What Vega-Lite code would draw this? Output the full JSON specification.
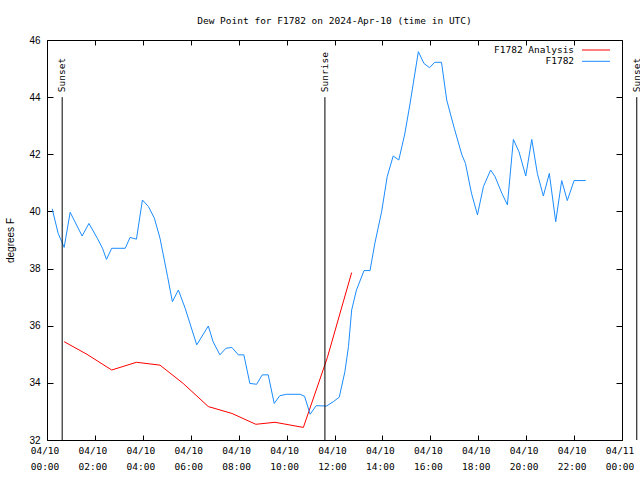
{
  "$schema": "https://vega.github.io/schema/vega-lite/v6.json",
  "width": 575,
  "height": 400,
  "autosize": {"type": "none"},
  "padding": {"left": 47, "top": 40, "right": 18, "bottom": 40},
  "background": "white",
  "title": {"text": "Dew Point for F1782 on 2024-Apr-10 (time in UTC)", "font": "DejaVu Sans Mono", "fontSize": 9.5, "fontWeight": "normal", "color": "black", "anchor": "middle", "frame": "group", "offset": 10},
  "config": {
    "view": {"stroke": "black", "strokeWidth": 1},
    "axis": {"domainColor": "black", "tickColor": "black", "labelColor": "black", "titleColor": "black", "domainWidth": 1, "tickWidth": 1}
  },
  "datasets": {
    "series": [
      {"t": "2024-04-10T00:43:00Z", "v": 35.44, "s": "F1782 Analysis"},
      {"t": "2024-04-10T01:40:00Z", "v": 35.0, "s": "F1782 Analysis"},
      {"t": "2024-04-10T02:42:00Z", "v": 34.45, "s": "F1782 Analysis"},
      {"t": "2024-04-10T03:44:00Z", "v": 34.72, "s": "F1782 Analysis"},
      {"t": "2024-04-10T04:43:00Z", "v": 34.62, "s": "F1782 Analysis"},
      {"t": "2024-04-10T05:41:00Z", "v": 33.98, "s": "F1782 Analysis"},
      {"t": "2024-04-10T06:44:00Z", "v": 33.17, "s": "F1782 Analysis"},
      {"t": "2024-04-10T07:43:00Z", "v": 32.93, "s": "F1782 Analysis"},
      {"t": "2024-04-10T08:43:00Z", "v": 32.55, "s": "F1782 Analysis"},
      {"t": "2024-04-10T09:31:00Z", "v": 32.62, "s": "F1782 Analysis"},
      {"t": "2024-04-10T10:42:00Z", "v": 32.44, "s": "F1782 Analysis"},
      {"t": "2024-04-10T11:42:00Z", "v": 34.88, "s": "F1782 Analysis"},
      {"t": "2024-04-10T12:43:00Z", "v": 37.86, "s": "F1782 Analysis"},
      {"t": "2024-04-10T00:13:00Z", "v": 40.09, "s": "F1782"},
      {"t": "2024-04-10T00:28:00Z", "v": 39.23, "s": "F1782"},
      {"t": "2024-04-10T00:37:00Z", "v": 38.94, "s": "F1782"},
      {"t": "2024-04-10T00:43:00Z", "v": 38.74, "s": "F1782"},
      {"t": "2024-04-10T00:58:00Z", "v": 39.97, "s": "F1782"},
      {"t": "2024-04-10T01:28:00Z", "v": 39.14, "s": "F1782"},
      {"t": "2024-04-10T01:45:00Z", "v": 39.58, "s": "F1782"},
      {"t": "2024-04-10T02:06:00Z", "v": 39.06, "s": "F1782"},
      {"t": "2024-04-10T02:19:00Z", "v": 38.71, "s": "F1782"},
      {"t": "2024-04-10T02:29:00Z", "v": 38.32, "s": "F1782"},
      {"t": "2024-04-10T02:42:00Z", "v": 38.71, "s": "F1782"},
      {"t": "2024-04-10T03:16:00Z", "v": 38.71, "s": "F1782"},
      {"t": "2024-04-10T03:28:00Z", "v": 39.09, "s": "F1782"},
      {"t": "2024-04-10T03:44:00Z", "v": 39.03, "s": "F1782"},
      {"t": "2024-04-10T03:59:00Z", "v": 40.40, "s": "F1782"},
      {"t": "2024-04-10T04:14:00Z", "v": 40.17, "s": "F1782"},
      {"t": "2024-04-10T04:29:00Z", "v": 39.76, "s": "F1782"},
      {"t": "2024-04-10T04:43:00Z", "v": 39.06, "s": "F1782"},
      {"t": "2024-04-10T05:02:00Z", "v": 37.72, "s": "F1782"},
      {"t": "2024-04-10T05:14:00Z", "v": 36.84, "s": "F1782"},
      {"t": "2024-04-10T05:29:00Z", "v": 37.25, "s": "F1782"},
      {"t": "2024-04-10T05:46:00Z", "v": 36.61, "s": "F1782"},
      {"t": "2024-04-10T06:15:00Z", "v": 35.33, "s": "F1782"},
      {"t": "2024-04-10T06:44:00Z", "v": 35.99, "s": "F1782"},
      {"t": "2024-04-10T06:56:00Z", "v": 35.44, "s": "F1782"},
      {"t": "2024-04-10T07:13:00Z", "v": 34.98, "s": "F1782"},
      {"t": "2024-04-10T07:28:00Z", "v": 35.21, "s": "F1782"},
      {"t": "2024-04-10T07:43:00Z", "v": 35.24, "s": "F1782"},
      {"t": "2024-04-10T07:59:00Z", "v": 34.98, "s": "F1782"},
      {"t": "2024-04-10T08:13:00Z", "v": 34.98, "s": "F1782"},
      {"t": "2024-04-10T08:28:00Z", "v": 33.98, "s": "F1782"},
      {"t": "2024-04-10T08:45:00Z", "v": 33.95, "s": "F1782"},
      {"t": "2024-04-10T08:59:00Z", "v": 34.28, "s": "F1782"},
      {"t": "2024-04-10T09:14:00Z", "v": 34.28, "s": "F1782"},
      {"t": "2024-04-10T09:29:00Z", "v": 33.28, "s": "F1782"},
      {"t": "2024-04-10T09:43:00Z", "v": 33.55, "s": "F1782"},
      {"t": "2024-04-10T10:00:00Z", "v": 33.60, "s": "F1782"},
      {"t": "2024-04-10T10:34:00Z", "v": 33.60, "s": "F1782"},
      {"t": "2024-04-10T10:45:00Z", "v": 33.53, "s": "F1782"},
      {"t": "2024-04-10T10:59:00Z", "v": 32.90, "s": "F1782"},
      {"t": "2024-04-10T11:14:00Z", "v": 33.20, "s": "F1782"},
      {"t": "2024-04-10T11:40:00Z", "v": 33.19, "s": "F1782"},
      {"t": "2024-04-10T11:57:00Z", "v": 33.34, "s": "F1782"},
      {"t": "2024-04-10T12:12:00Z", "v": 33.50, "s": "F1782"},
      {"t": "2024-04-10T12:26:00Z", "v": 34.39, "s": "F1782"},
      {"t": "2024-04-10T12:35:00Z", "v": 35.27, "s": "F1782"},
      {"t": "2024-04-10T12:43:00Z", "v": 36.55, "s": "F1782"},
      {"t": "2024-04-10T12:55:00Z", "v": 37.25, "s": "F1782"},
      {"t": "2024-04-10T13:14:00Z", "v": 37.93, "s": "F1782"},
      {"t": "2024-04-10T13:29:00Z", "v": 37.93, "s": "F1782"},
      {"t": "2024-04-10T13:41:00Z", "v": 38.88, "s": "F1782"},
      {"t": "2024-04-10T13:58:00Z", "v": 39.99, "s": "F1782"},
      {"t": "2024-04-10T14:12:00Z", "v": 41.22, "s": "F1782"},
      {"t": "2024-04-10T14:27:00Z", "v": 41.94, "s": "F1782"},
      {"t": "2024-04-10T14:41:00Z", "v": 41.80, "s": "F1782"},
      {"t": "2024-04-10T14:56:00Z", "v": 42.71, "s": "F1782"},
      {"t": "2024-04-10T15:09:00Z", "v": 43.76, "s": "F1782"},
      {"t": "2024-04-10T15:30:00Z", "v": 45.59, "s": "F1782"},
      {"t": "2024-04-10T15:44:00Z", "v": 45.18, "s": "F1782"},
      {"t": "2024-04-10T15:58:00Z", "v": 45.03, "s": "F1782"},
      {"t": "2024-04-10T16:11:00Z", "v": 45.22, "s": "F1782"},
      {"t": "2024-04-10T16:28:00Z", "v": 45.22, "s": "F1782"},
      {"t": "2024-04-10T16:41:00Z", "v": 43.90, "s": "F1782"},
      {"t": "2024-04-10T17:00:00Z", "v": 42.91, "s": "F1782"},
      {"t": "2024-04-10T17:19:00Z", "v": 41.98, "s": "F1782"},
      {"t": "2024-04-10T17:28:00Z", "v": 41.68, "s": "F1782"},
      {"t": "2024-04-10T17:43:00Z", "v": 40.64, "s": "F1782"},
      {"t": "2024-04-10T17:58:00Z", "v": 39.88, "s": "F1782"},
      {"t": "2024-04-10T18:13:00Z", "v": 40.87, "s": "F1782"},
      {"t": "2024-04-10T18:31:00Z", "v": 41.45, "s": "F1782"},
      {"t": "2024-04-10T18:42:00Z", "v": 41.22, "s": "F1782"},
      {"t": "2024-04-10T18:59:00Z", "v": 40.64, "s": "F1782"},
      {"t": "2024-04-10T19:13:00Z", "v": 40.23, "s": "F1782"},
      {"t": "2024-04-10T19:28:00Z", "v": 42.52, "s": "F1782"},
      {"t": "2024-04-10T19:42:00Z", "v": 42.09, "s": "F1782"},
      {"t": "2024-04-10T19:59:00Z", "v": 41.24, "s": "F1782"},
      {"t": "2024-04-10T20:14:00Z", "v": 42.52, "s": "F1782"},
      {"t": "2024-04-10T20:28:00Z", "v": 41.33, "s": "F1782"},
      {"t": "2024-04-10T20:43:00Z", "v": 40.54, "s": "F1782"},
      {"t": "2024-04-10T20:58:00Z", "v": 41.33, "s": "F1782"},
      {"t": "2024-04-10T21:14:00Z", "v": 39.64, "s": "F1782"},
      {"t": "2024-04-10T21:29:00Z", "v": 41.08, "s": "F1782"},
      {"t": "2024-04-10T21:43:00Z", "v": 40.38, "s": "F1782"},
      {"t": "2024-04-10T22:00:00Z", "v": 41.08, "s": "F1782"},
      {"t": "2024-04-10T22:29:00Z", "v": 41.08, "s": "F1782"}
    ],
    "sun": [
      {"t": "2024-04-10T00:38:00Z", "label": "Sunset"},
      {"t": "2024-04-10T11:36:00Z", "label": "Sunrise"},
      {"t": "2024-04-11T00:37:00Z", "label": "Sunset"}
    ]
  },
  "layer": [
    {
      "data": {"name": "series"},
      "mark": {"type": "line", "strokeWidth": 1},
      "encoding": {
        "x": {
          "field": "t", "type": "temporal",
          "scale": {"type": "utc", "nice": false, "domain": [1712707200000, 1712793600000]},
          "axis": {
            "orient": "bottom", "title": null, "ticks": false, "domain": false,
            "grid": true, "gridColor": "black", "gridOpacity": 1, "gridWidth": 1, "gridDash": [5, 390, 5],
            "values": [1712707200000, 1712710800000, 1712714400000, 1712718000000, 1712721600000, 1712725200000, 1712728800000, 1712732400000, 1712736000000, 1712739600000, 1712743200000, 1712746800000, 1712750400000, 1712754000000, 1712757600000, 1712761200000, 1712764800000, 1712768400000, 1712772000000, 1712775600000, 1712779200000, 1712782800000, 1712786400000, 1712790000000, 1712793600000],
            "labelPadding": 5, "labelOffset": -2.5,
            "labelFont": "DejaVu Sans Mono", "labelFontSize": 9.5, "labelLineHeight": 16, "labelBaseline": "top",
            "labelOverlap": false, "labelFlush": false, "labelBound": false,
            "labelExpr": "utchours(datum.value) % 2 == 0 ? [utcFormat(datum.value, '%m/%d'), utcFormat(datum.value, '%H:%M')] : ''"
          }
        },
        "y": {
          "field": "v", "type": "quantitative",
          "scale": {"domain": [32, 46], "nice": false, "zero": false},
          "axis": {
            "orient": "left", "title": "degrees F", "ticks": false, "domain": false,
            "grid": true, "gridColor": "black", "gridOpacity": 1, "gridWidth": 1, "gridDash": [6, 563, 6],
            "values": [32, 34, 36, 38, 40, 42, 44, 46],
            "labelPadding": 7,
            "labelFont": "Liberation Sans", "labelFontSize": 10,
            "titleFont": "Liberation Sans", "titleFontSize": 10, "titleFontWeight": "normal", "titlePadding": 13
          }
        },
        "color": {
          "field": "s", "type": "nominal",
          "scale": {"domain": ["F1782 Analysis", "F1782"], "range": ["#ff0000", "#1a8cff"]},
          "legend": {
            "title": null, "orient": "none", "legendX": 447, "legendY": 4.5,
            "padding": 0, "rowPadding": 1.3,
            "symbolType": "M-2.8,0H2.8", "symbolSize": 100, "symbolStrokeWidth": 1,
            "labelFont": "DejaVu Sans Mono", "labelFontSize": 9.5, "labelColor": "black",
            "encode": {
              "labels": {"update": {
                "x": {"value": 0}, "align": {"value": "left"},
                "text": {"signal": "datum.label == 'F1782' ? '\u200b\u00a0\u00a0\u00a0\u00a0\u00a0\u00a0\u00a0\u00a0\u00a0F1782' : datum.label"}
              }},
              "symbols": {"update": {"x": {"value": 102}}}
            }
          }
        }
      }
    },
    {
      "data": {"name": "sun"},
      "mark": {"type": "rule", "color": "black", "strokeWidth": 1},
      "encoding": {
        "x": {"field": "t", "type": "temporal"},
        "y": {"datum": 44, "type": "quantitative"},
        "y2": {"datum": 32}
      }
    },
    {
      "data": {"name": "sun"},
      "mark": {"type": "text", "angle": 270, "align": "left", "baseline": "middle", "dx": 5, "font": "DejaVu Sans Mono", "fontSize": 9.5, "color": "black"},
      "encoding": {
        "x": {"field": "t", "type": "temporal"},
        "y": {"datum": 44, "type": "quantitative"},
        "text": {"field": "label"}
      }
    }
  ]
}
